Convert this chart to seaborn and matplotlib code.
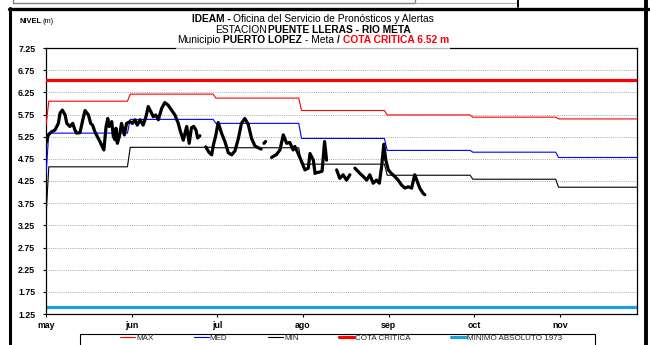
import numpy as np
import pandas as pd
import matplotlib
matplotlib.use("Agg")
import matplotlib.pyplot as plt
from matplotlib.lines import Line2D
from matplotlib.patches import Rectangle
import seaborn as sns

# ---- data -------------------------------------------------------------
months = ["may", "jun", "jul", "ago", "sep", "oct", "nov"]

# monthly reference levels (m); the first entry is the opening value on day 0
max_first, max_level = 5.50, [6.05, 6.21, 6.12, 5.84, 5.74, 5.69, 5.65]
med_first, med_level = 4.39, [5.33, 5.64, 5.55, 5.21, 4.94, 4.90, 4.78]
min_first, min_level = 3.45, [4.57, 5.01, 5.00, 4.63, 4.38, 4.29, 4.11]

cota_critica = 6.52
minimo_absoluto_1973 = 1.41

# observed level, day counted from 1 May; NaN marks a break in the record
nan = np.nan
obs_day = [
    0.0, 0.8, 2.0, 3.2, 4.4, 5.0, 5.8, 6.8, 7.4, 8.5,
    9.5, 10.3, 10.9, 12.1, 13.1, 13.9, 15.1, 15.9, 16.6, 17.4,
    18.3, 19.2, 20.0, 20.6, 21.4, 22.0, 22.5, 23.4, 24.0, 24.6,
    24.9, 25.4, 26.1, 26.9, 27.9, 28.7, 29.9, 30.8, 31.7, 32.5,
    33.5, 34.6, 35.6, 36.4, 37.6, 38.2, 39.1, 40.0, 41.2, 42.3,
    43.5, 44.7, 45.9, 47.1, 47.9, 48.9, 49.5, 50.1, 51.0, 51.8,
    52.6, 53.4, 54.0, 54.8,
    nan,
    56.9, 58.0, 59.0, 59.6, 60.5, 61.3, 62.5, 63.7, 64.9, 66.1,
    67.3, 68.5, 69.6, 70.8, 72.0, 73.2, 74.4, 75.6, 76.6,
    nan,
    77.6, 78.2,
    nan,
    80.3, 82.1, 83.3, 84.5, 85.7, 86.8, 88.0, 88.6, 89.8, 91.0,
    92.2, 93.4, 94.0, 95.2, 95.8, 96.3, 97.3, 98.3, 99.2, 99.9,
    nan,
    103.5, 104.6, 105.8, 107.0, 108.2,
    nan,
    110.0, 111.8, 113.0, 114.2, 115.3, 116.5, 117.7, 118.7, 119.5, 120.3,
    121.0, 121.9, 123.0, 124.2, 125.4, 126.6, 127.8, 129.0, 130.2, 131.3,
    132.2, 133.1, 134.3, 134.9,
]
obs_level = [
    5.11, 5.29, 5.36, 5.40, 5.55, 5.78, 5.85, 5.74, 5.55, 5.48,
    5.55, 5.40, 5.33, 5.34, 5.63, 5.84, 5.74, 5.55, 5.51, 5.36,
    5.25, 5.14, 5.03, 4.95, 5.48, 5.66, 5.48, 5.59, 5.25, 5.18,
    5.44, 5.10, 5.25, 5.55, 5.29, 5.55, 5.59, 5.55, 5.63, 5.51,
    5.63, 5.51, 5.70, 5.93, 5.78, 5.70, 5.74, 5.63, 5.89, 6.02,
    5.96, 5.85, 5.74, 5.55, 5.36, 5.17, 5.33, 5.48, 5.10, 5.45,
    5.48, 5.40, 5.22, 5.27,
    nan,
    5.02, 4.90, 4.84, 5.06, 5.29, 5.57, 5.33, 5.14, 4.89, 4.84,
    4.93, 5.21, 5.55, 5.66, 5.53, 5.21, 5.04, 5.00, 4.97,
    nan,
    5.10, 5.14,
    nan,
    4.78, 4.85, 4.95, 5.29, 5.10, 5.12, 4.95, 5.03, 4.87, 4.69,
    4.50, 4.54, 4.87, 4.72, 4.42, 4.44, 4.45, 4.47, 5.14, 4.72,
    nan,
    4.50, 4.31, 4.39, 4.27, 4.39,
    nan,
    4.54, 4.42, 4.35, 4.27, 4.39, 4.20, 4.27, 4.20, 4.57, 5.08,
    4.72, 4.50, 4.42, 4.35, 4.27, 4.16, 4.09, 4.12, 4.09, 4.39,
    4.24, 4.09, 3.97, 3.94,
]

y_ticks = [1.25, 1.75, 2.25, 2.75, 3.25, 3.75, 4.25, 4.75, 5.25, 5.75, 6.25, 6.75, 7.25]

# ---- layout helpers ---------------------------------------------------
W, H = 650, 345
MONTH_SPAN = 30.5
X_END = 6.9 * MONTH_SPAN


def fx(px):
    return px / W


def fy(py):
    return 1 - py / H


def monthly_steps(first, levels):
    """Month-by-month plateaus with a short ramp at each change of month."""
    xs, ys = [0.0], [first]
    for i, v in enumerate(levels):
        start = 1.0 if i == 0 else i * MONTH_SPAN - 0.5
        end = (i + 1) * MONTH_SPAN - 1.5 if i < len(levels) - 1 else X_END + 5
        xs += [start, end]
        ys += [v, v]
    return xs, ys


sns.set_style("ticks")
plt.rcParams["font.family"] = ["Liberation Sans", "DejaVu Sans"]

fig = plt.figure(figsize=(W / 100, H / 100), dpi=100)
fig.patch.set_facecolor("white")
ax = fig.add_axes([fx(46), fy(314), (637 - 46) / W, (314 - 48) / H])

# reference lines
ax.axhline(minimo_absoluto_1973, color="#1ca0da", lw=2.3, zorder=2,
           label="MINIMO ABSOLUTO 1973")

for first, levels, color, name in [
    (max_first, max_level, "#ff0000", "MAX"),
    (med_first, med_level, "#0000ff", "MED"),
    (min_first, min_level, "#000000", "MIN"),
]:
    xs, ys = monthly_steps(first, levels)
    sns.lineplot(x=xs, y=ys, ax=ax, color=color, lw=0.8, label=name,
                 estimator=None, sort=False, zorder=3)

ax.axhline(cota_critica, color="#ff0000", lw=2.3, zorder=5, label="COTA CRITICA")

# observed record, one unit per continuous stretch
obs = pd.DataFrame({"day": obs_day, "level": obs_level})
obs["tramo"] = obs["level"].isna().cumsum()
obs = obs.dropna()
sns.lineplot(data=obs, x="day", y="level", units="tramo", estimator=None,
             color="black", lw=2.3, ax=ax, legend=False, zorder=4,
             solid_joinstyle="round", solid_capstyle="round")

handles, labels = ax.get_legend_handles_labels()
if ax.get_legend() is not None:
    ax.get_legend().remove()

# axes
ax.set_xlim(0, X_END)
ax.set_ylim(y_ticks[0], y_ticks[-1])
ax.set_yticks(y_ticks)
ax.set_yticklabels([f"{v:.2f}" for v in y_ticks])
ax.set_xticks([i * MONTH_SPAN for i in range(len(months))])
ax.set_xticklabels(months)
ax.set_xlabel("")
ax.set_ylabel("")
ax.tick_params(axis="both", direction="out", length=2.2, width=0.8,
               labelsize=6.3, colors="black")
ax.tick_params(axis="y", pad=5.5)
ax.tick_params(axis="x", pad=2.5)
for lbl in ax.get_xticklabels() + ax.get_yticklabels():
    lbl.set_fontweight("bold")
ax.grid(axis="y", color="#a8a8a8", linestyle=(0, (1, 1.2)), lw=0.7)
ax.grid(axis="x", visible=False)
ax.set_axisbelow(True)
for sp in ax.spines.values():
    sp.set_color("black")
    sp.set_linewidth(0.9)

# ---- texts -------------------------------------------------------------
renderer = fig.canvas.get_renderer()


def rich_line(parts, cx, base_y, size, gap_scale=1.0):
    objs = []
    for s, weight, color in parts:
        objs.append(fig.text(0, fy(base_y), s, fontsize=size, fontweight=weight,
                             color=color, va="baseline", ha="left", zorder=10))
    probe = fig.text(0, 0, "a a", fontsize=size)
    probe2 = fig.text(0, 0, "aa", fontsize=size)
    gap = (probe.get_window_extent(renderer).width
           - probe2.get_window_extent(renderer).width) * gap_scale
    probe.remove()
    probe2.remove()
    widths = [t.get_window_extent(renderer).width for t in objs]
    total = sum(widths) + gap * (len(objs) - 1)
    x = cx - total / 2
    for t, w in zip(objs, widths):
        t.set_x(fx(x))
        x += w + gap
    return cx - total / 2, cx + total / 2


TITLE_SIZE = 7.4
rich_line([("IDEAM -", "bold", "black"),
           ("Oficina del Servicio de Pronósticos y Alertas", "normal", "black")],
          313, 21.7, TITLE_SIZE)
rich_line([("ESTACION", "normal", "black"),
           ("PUENTE LLERAS - RIO META", "bold", "black")],
          313, 32.7, TITLE_SIZE, gap_scale=0.5)
x0, x1 = rich_line([("Municipio", "normal", "black"),
                    ("PUERTO LOPEZ", "bold", "black"),
                    ("- Meta", "normal", "black"),
                    ("/", "bold", "black"),
                    ("COTA CRITICA 6.52 m", "bold", "#ff0000")],
                   313, 43.3, TITLE_SIZE)
# the title block's background softens the top frame line beneath it
fig.add_artist(Rectangle((fx(x0 - 1), fy(50)), (x1 - x0 + 2) / W, 6 / H,
                         transform=fig.transFigure, facecolor="white",
                         edgecolor="none", alpha=0.7, zorder=6))

rich_line([("NIVEL", "bold", "black"), ("(m)", "normal", "black")],
          36.3, 22.7, 5.4, gap_scale=0.6)

# ---- legend ------------------------------------------------------------
order = ["MAX", "MED", "MIN", "COTA CRITICA", "MINIMO ABSOLUTO 1973"]
hmap = dict(zip(labels, handles))
leg_handles = [Line2D([], [], color=hmap[k].get_color(), lw=hmap[k].get_linewidth())
               for k in order]
fig.legend(leg_handles, order, loc="upper left",
           bbox_to_anchor=(fx(120), fy(334.5)), ncol=5, frameon=False,
           fontsize=5.8, handlelength=1.85, handletextpad=0.15,
           columnspacing=5.0, borderpad=0, borderaxespad=0)
fig.add_artist(Rectangle((fx(80), fy(350)), (595 - 80) / W, 16 / H,
                         transform=fig.transFigure, facecolor="none",
                         edgecolor="black", lw=0.8, zorder=1))

# ---- page frame ----------------------------------------------------------
def frame_line(xs, ys, **kw):
    fig.add_artist(Line2D([fx(v) for v in xs], [fy(v) for v in ys],
                          transform=fig.transFigure, **kw))


frame_line([9, 649], [8.5, 8.5], color="black", lw=2.4)
frame_line([10, 10], [7.5, 346], color="black", lw=2.2)
frame_line([645.5, 645.5], [-1, 346], color="black", lw=2.8)
frame_line([13, 13, 415, 415], [-2, 3, 3, -2], color="#808080", lw=1.0)
frame_line([415, 517], [3, 3], color="#b0b0b0", lw=0.8)
frame_line([518, 518], [-2, 6.5], color="black", lw=1.4)

fig.savefig("out.png", dpi=100)
